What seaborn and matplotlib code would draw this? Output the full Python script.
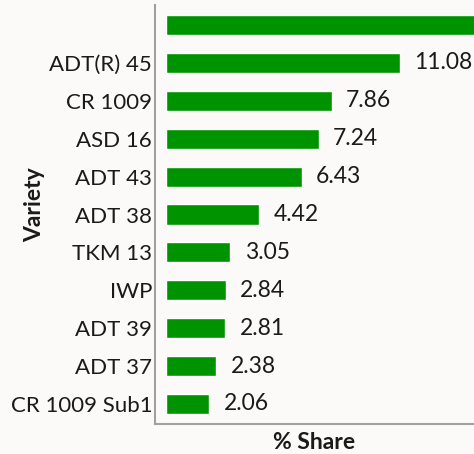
import matplotlib
matplotlib.use("Agg")
import matplotlib.pyplot as plt
import seaborn as sns
import pandas as pd

varieties = ["", "ADT(R) 45", "CR 1009", "ASD 16", "ADT 43", "ADT 38",
             "TKM 13", "IWP", "ADT 39", "ADT 37", "CR 1009 Sub1"]
shares = [16.0, 11.08, 7.86, 7.24, 6.43, 4.42, 3.05, 2.84, 2.81, 2.38, 2.06]
value_labels = ["", "11.08", "7.86", "7.24", "6.43", "4.42", "3.05",
                "2.84", "2.81", "2.38", "2.06"]

df = pd.DataFrame({"Variety": varieties, "Share": shares})

sns.set_theme(style="white")
plt.rcParams["font.family"] = ["Lato", "DejaVu Sans"]

bg = "#fcfaf8"
fig = plt.figure(figsize=(4.74, 4.54), dpi=100, facecolor=bg)
ax = fig.add_axes([0.327, 0.066, 0.673, 0.923])
ax.set_facecolor(bg)

sns.barplot(data=df, x="Share", y="Variety", orient="h", color="#009300",
            saturation=1, width=0.53, ax=ax, order=varieties)

ax.set_xlim(-0.52, 14.6)
ax.set_ylim(len(varieties) - 0.47, -0.53)

for i, (v, lab) in enumerate(zip(shares, value_labels)):
    if lab:
        ax.text(v + 0.68, i, lab, va="center", ha="left", fontsize=16.5,
                color="#1a1a1a")

ax.set_xticks([])
ax.tick_params(axis="y", length=0, pad=2, labelsize=16, labelcolor="#1a1a1a")
ax.set_xlabel("% Share", fontsize=16.5, fontweight="bold", color="#1a1a1a")
ax.set_ylabel("Variety", fontsize=16.5, fontweight="bold", color="#1a1a1a")
ax.xaxis.set_label_coords(0.5, -0.018)
ax.yaxis.set_label_coords(-0.345, 0.523)

for s in ["top", "right"]:
    ax.spines[s].set_visible(False)
for s in ["left", "bottom"]:
    ax.spines[s].set_color("#a0a0a0")
    ax.spines[s].set_linewidth(1.5)

fig.savefig("out.png", dpi=100, facecolor=bg)
